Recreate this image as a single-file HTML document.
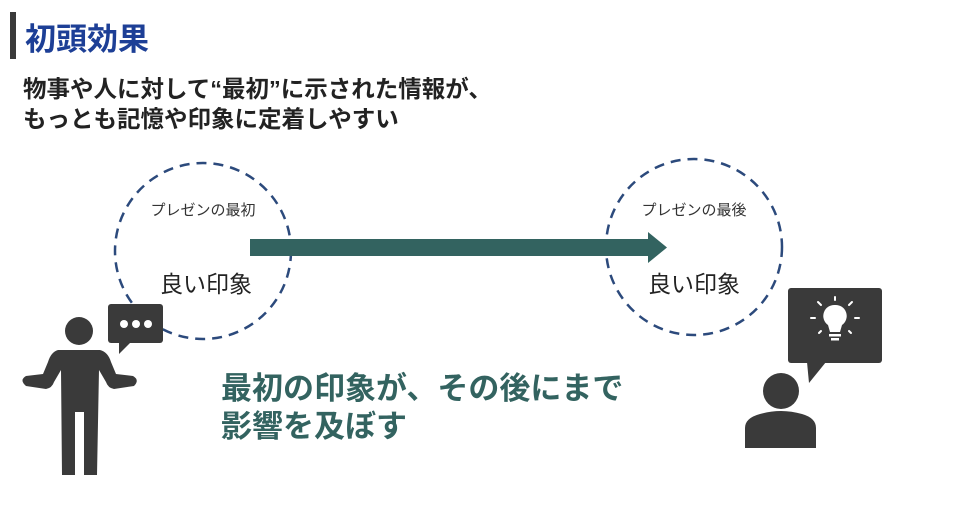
<!DOCTYPE html>
<html><head><meta charset="utf-8"><style>
body{margin:0;background:#fff;width:960px;height:504px;overflow:hidden}
text{font-family:"Liberation Sans","Noto Sans CJK JP",sans-serif}
</style></head><body>
<svg width="960" height="504" xmlns="http://www.w3.org/2000/svg">
<rect x="10" y="12" width="6" height="47" fill="#3a3a3a"/>
<text x="25" y="50" font-size="31" font-weight="bold" fill="#1d3f96">初頭効果</text>
<text x="23" y="97" font-size="23.5" font-weight="bold" fill="#222">物事や人に対して“最初”に示された情報が、</text>
<text x="23" y="127" font-size="23.5" font-weight="bold" fill="#222">もっとも記憶や印象に定着しやすい</text>
<circle cx="203" cy="251" r="88" fill="none" stroke="#2c4a7c" stroke-width="2.5" stroke-dasharray="10 7"/>
<circle cx="694" cy="247" r="88" fill="none" stroke="#2c4a7c" stroke-width="2.5" stroke-dasharray="10 7"/>
<text x="203" y="215" font-size="15" fill="#333" text-anchor="middle">プレゼンの最初</text>
<text x="206" y="292" font-size="23" fill="#222" text-anchor="middle">良い印象</text>
<text x="694" y="215" font-size="15" fill="#333" text-anchor="middle">プレゼンの最後</text>
<text x="694" y="292" font-size="23" fill="#222" text-anchor="middle">良い印象</text>
<rect x="250" y="239" width="400" height="17" fill="#336360"/>
<polygon points="648,232 667,247.5 648,263" fill="#336360"/>
<text x="221" y="399" font-size="31" font-weight="bold" fill="#336360">最初の印象が、その後にまで</text>
<text x="221" y="437" font-size="31" font-weight="bold" fill="#336360">影響を及ぼす</text>
<g fill="#3a3a3a">
<circle cx="79" cy="331" r="14"/>
<path d="M58,350 L100,350 Q108,352 111,362 L116,374 L133,376 Q140,380 134,386 L114,389 Q108,388 106,382 L99,370 L97,475 L84,475 L84,412 L75,412 L75,475 L62,475 L61,370 L54,382 Q52,388 46,389 L26,386 Q19,380 26,376 L43,374 L48,362 Q51,352 58,350 Z"/>
<rect x="108" y="304" width="55" height="39" rx="3"/>
<polygon points="119,342 131,342 119,354"/>
<rect x="788" y="288" width="94" height="75" rx="3"/>
<polygon points="807,362 826,362 809,383"/>
<circle cx="781" cy="391" r="18"/>
<path d="M745,448 L745,428 Q745,418 760,414 Q781,408 802,414 Q816,418 816,428 L816,448 Z"/>
</g>
<g fill="#fff">
<circle cx="124" cy="324" r="4"/><circle cx="136" cy="324" r="4"/><circle cx="148" cy="324" r="4"/>
<path d="M835,305 a11,11 0 0 1 7,20 L840,332 L830,332 L828,325 a11,11 0 0 1 7,-20 Z"/>
<rect x="829" y="334" width="12" height="2.5"/><rect x="831" y="338" width="8" height="2.5"/>
</g>
<g stroke="#fff" stroke-width="2" stroke-linecap="round">
<line x1="835" y1="297" x2="835" y2="300"/>
<line x1="818" y1="302" x2="821" y2="305"/><line x1="852" y1="302" x2="849" y2="305"/>
<line x1="811" y1="318" x2="815" y2="318"/><line x1="855" y1="318" x2="859" y2="318"/>
<line x1="819" y1="333" x2="821" y2="331"/><line x1="851" y1="333" x2="849" y2="331"/>
</g>
</svg>
</body></html>
